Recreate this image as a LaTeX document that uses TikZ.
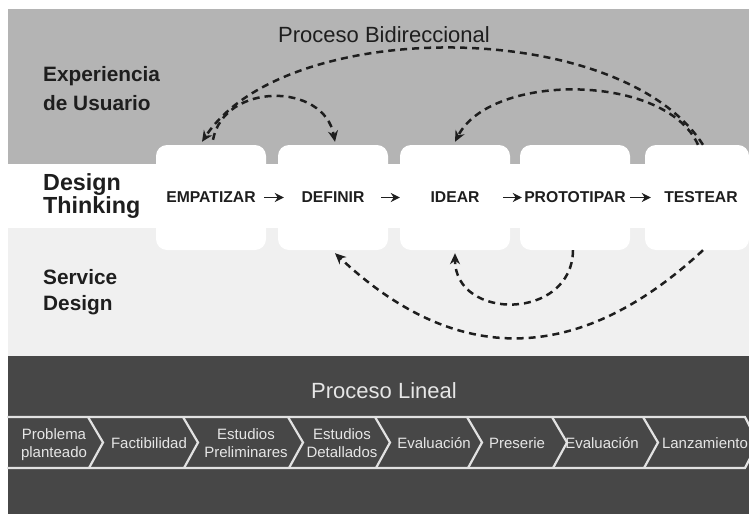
\documentclass[tikz,border=0pt]{standalone}
\usepackage{fontspec}
\setmainfont{Liberation Sans}
\usetikzlibrary{arrows.meta}
\definecolor{bandtop}{HTML}{B4B4B4}
\definecolor{bandlight}{HTML}{F0F0F0}
\definecolor{banddark}{HTML}{474747}
\definecolor{ink}{HTML}{1E1E1E}
\definecolor{chevline}{HTML}{E2E2E2}
\definecolor{chevtext}{HTML}{E6E6E6}
\begin{document}
\begin{tikzpicture}[x=1pt,y=-1pt,
  stepbox/.style={fill=white, rounded corners=11pt, minimum width=110pt, minimum height=105pt, inner sep=0pt, text=ink, font=\bfseries\fontsize{15.7}{18}\selectfont},
  headA/.style={anchor=base west, inner sep=0pt, text=ink, font=\bfseries\fontsize{20.8}{24}\selectfont},
  headB/.style={anchor=base west, inner sep=0pt, text=ink, font=\bfseries\fontsize{23.3}{26}\selectfont},
  title/.style={anchor=base, inner sep=0pt, font=\fontsize{22}{26}\selectfont},
  chevtxt/.style={anchor=base, inner sep=0pt, text=chevtext, font=\fontsize{15}{18}\selectfont},
  chev/.style={draw=chevline, line width=2.2pt, line join=miter},
  flow/.style={draw=ink, line width=1.8pt, -{Stealth[length=9pt,width=9pt]}},
  dasharc/.style={draw=ink, line width=2.5pt, dash pattern=on 7pt off 5pt},
  dasharrow/.style={dasharc, -{Stealth[length=11pt,width=10pt]}}
]
\useasboundingbox (0,0) rectangle (749,514);
\fill[white] (0,0) rectangle (749,514);
\fill[bandtop] (8,9) rectangle (749,164);
\fill[bandlight] (8,228) rectangle (749,356);
\fill[banddark] (8,356) rectangle (749,514);

% headings
\node[headA] (ux1) at (43,81.5) {Experiencia};
\node[headA] (ux2) at (43,110) {de Usuario};
\node[headB] (dt1) at (43,190) {Design};
\node[headB] (dt2) at (43,213.5) {Thinking};
\node[headA] (sd1) at (43,284) {Service};
\node[headA] (sd2) at (43,310) {Design};

\node[title, text=ink] (bidir) at (384,42) {Proceso Bidireccional};
\node[title, text=chevtext] (lineal) at (384,398) {Proceso Lineal};

% design thinking steps
\node[stepbox] (emp) at (211,197.5) {EMPATIZAR};
\node[stepbox] (def) at (333,197.5) {DEFINIR};
\node[stepbox] (ide) at (455,197.5) {IDEAR};
\node[stepbox] (pro) at (575,197.5) {PROTOTIPAR};
\node[stepbox, minimum width=104pt] (tes) at (697,197.5) {\hspace*{8pt}TESTEAR};

\draw[flow] ([xshift=-2pt]emp.east) -- ([xshift=6pt]def.west);
\draw[flow] ([xshift=-7pt]def.east) -- ([xshift=0pt]ide.west);
\draw[flow] ([xshift=-7pt]ide.east) -- ([xshift=2pt]pro.west);
\draw[flow] ([xshift=0pt]pro.east) -- ([xshift=6pt]tes.west);

% bidirectional arcs (upper)
\draw[dasharrow] ([xshift=6pt]tes.north) .. controls (621,17) and (285,16) .. ([xshift=-9pt,yshift=3pt]emp.north);
\draw[dasharrow] ([xshift=1pt]tes.north) .. controls (666,73) and (491,72) .. ([yshift=3pt]ide.north);
\draw[dasharrow] ([xshift=2pt,yshift=5pt]emp.north) .. controls (224,82) and (324,82) .. ([xshift=2pt,yshift=3pt]def.north);
% lower arcs
\draw[dasharrow] ([xshift=-2pt]pro.south) .. controls (572,321) and (455,321) .. ([yshift=-3pt]ide.south);
\draw[dasharrow] ([xshift=6pt]tes.south) .. controls (578,366) and (456,367) .. ([xshift=2pt,yshift=-3pt]def.south);

% linear process chevron band
\draw[chev] (7,417) -- (745,417) -- (758,442.5) -- (745,468) -- (7,468);
\foreach \cx in {88,183,288,375,467,552,643}{
  \draw[chev] (\cx,417) -- (\cx+15,442.5) -- (\cx+1,468);
}
\node[chevtxt] (c1a) at (54,439) {Problema};
\node[chevtxt] (c1b) at (54,457) {planteado};
\node[chevtxt] (c2) at (149,448.5) {Factibilidad};
\node[chevtxt] (c3a) at (246,439) {Estudios};
\node[chevtxt] (c3b) at (246,457) {Preliminares};
\node[chevtxt] (c4a) at (342,439) {Estudios};
\node[chevtxt] (c4b) at (342,457) {Detallados};
\node[chevtxt] (c5) at (434,448.5) {Evaluación};
\node[chevtxt] (c6) at (517,448.5) {Preserie};
\node[chevtxt] (c7) at (602,448.5) {Evaluación};
\node[chevtxt] (c8) at (705,448.5) {Lanzamiento};
\end{tikzpicture}
\end{document}
